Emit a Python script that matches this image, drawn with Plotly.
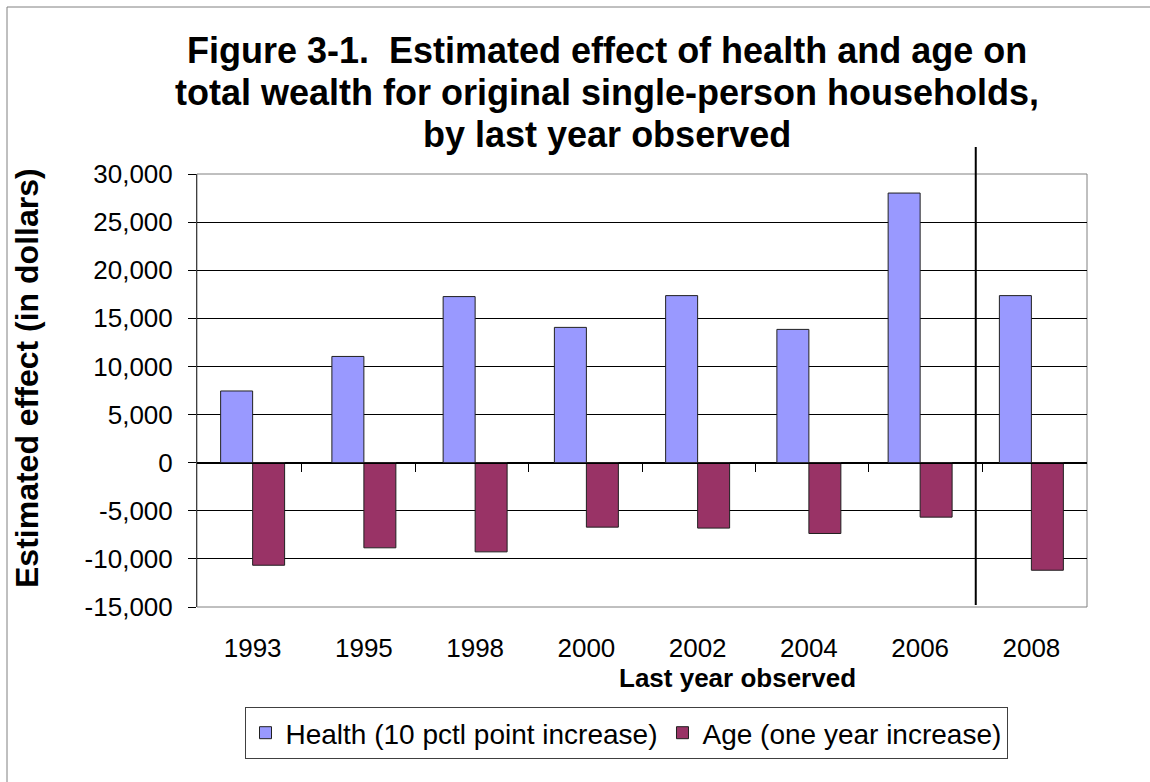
import plotly.graph_objects as go

# ---- data ----
years = ["1993", "1995", "1998", "2000", "2002", "2004", "2006", "2008"]
health = [7450, 11040, 17260, 14060, 17360, 13850, 28020, 17360]
age = [-10660, -8850, -9270, -6700, -6800, -7360, -5660, -11180]
ytick_vals = [30000, 25000, 20000, 15000, 10000, 5000, 0, -5000, -10000, -15000]
ytick_text = ["30,000", "25,000", "20,000", "15,000", "10,000", "5,000", "0",
              "-5,000", "-10,000", "-15,000"]
health_name = "Health (10 pctl point increase)"
age_name = "Age (one year increase)"
title_lines = ["Figure 3-1.  Estimated effect of health and age on",
               "total wealth for original single-person households,",
               "by last year observed"]

# ---- layout geometry ----
W_FIG, H_FIG = 1150, 782
L, R, T, B = 197, 63, 174, 175
PW, PH = W_FIG - L - R, H_FIG - T - B


def px_x(px):
    return (px - L) / PW


def px_y(py):
    return (H_FIG - B - py) / PH


FONT = "Liberation Sans, Arial, sans-serif"

fig = go.Figure()
fig.add_trace(go.Bar(x=years, y=health, name=health_name,
                     marker=dict(color="#9999FF", line=dict(color="#202020", width=1))))
fig.add_trace(go.Bar(x=years, y=age, name=age_name,
                     marker=dict(color="#993366", line=dict(color="#202020", width=1))))
# helper (invisible) trace so the zero-line category axis gets its categories
fig.add_trace(go.Scatter(x=years, y=[0] * len(years), xaxis="x2", mode="markers",
                         marker=dict(opacity=0), showlegend=False, hoverinfo="skip"))

fig.update_layout(
    width=W_FIG, height=H_FIG,
    margin=dict(l=L, r=R, t=T, b=B),
    paper_bgcolor="white", plot_bgcolor="white",
    font=dict(family=FONT, size=26, color="black"),
    barmode="group", bargap=0.425, bargroupgap=0,
    xaxis=dict(type="category", categoryorder="array", categoryarray=years,
               showgrid=False, showline=False, ticks="", ticklabelstandoff=23,
               tickfont=dict(size=26)),
    xaxis2=dict(type="category", categoryorder="array", categoryarray=years,
                overlaying="x", anchor="free", position=px_y(462.7),
                showline=True, linecolor="black", linewidth=1,
                ticks="outside", tickson="boundaries", ticklen=8, tickcolor="black",
                showticklabels=False, showgrid=False),
    yaxis=dict(range=[-15000, 30000], tickvals=ytick_vals, ticktext=ytick_text,
               showgrid=True, gridcolor="black", gridwidth=1, zeroline=False,
               showline=True, linecolor="#404040", linewidth=1,
               ticks="outside", ticklen=8, tickcolor="black",
               tickfont=dict(size=26), ticklabelstandoff=10),
    legend=dict(orientation="h", x=px_x(626), xanchor="center",
                y=px_y(707), yanchor="top", bordercolor="#404040", borderwidth=1,
                font=dict(size=28), bgcolor="white", traceorder="normal"),
    showlegend=True,
)

# chart title (three centred lines)
for line, cy in zip(title_lines, [50, 92, 134]):
    fig.add_annotation(text=line, xref="paper", yref="paper",
                       x=px_x(607), y=px_y(cy), xanchor="center", yanchor="middle",
                       showarrow=False,
                       font=dict(family=FONT, size=36, color="black", weight="bold"))

# axis titles
fig.add_annotation(text="Last year observed", xref="paper", yref="paper",
                   x=px_x(737), y=px_y(678), xanchor="center", yanchor="middle",
                   showarrow=False,
                   font=dict(family=FONT, size=26, color="black", weight="bold"))
fig.add_annotation(text="Estimated effect (in dollars)", xref="paper", yref="paper",
                   x=px_x(27), y=px_y(378), xanchor="center", yanchor="middle",
                   textangle=-90, showarrow=False,
                   font=dict(family=FONT, size=32, color="black", weight="bold"))

# plot area border (gray)
fig.add_shape(type="rect", xref="paper", yref="paper", x0=0, x1=1, y0=0, y1=1,
              line=dict(color="#808080", width=1), layer="below")
# outer chart border (only left/top visible)
fig.add_shape(type="rect", xref="paper", yref="paper",
              x0=px_x(7), x1=px_x(1170), y0=px_y(800), y1=px_y(7),
              line=dict(color="#808080", width=1))
# vertical separator between 2006 and 2008
fig.add_shape(type="line", xref="x", yref="paper", x0=6.5, x1=6.5,
              y0=px_y(605), y1=px_y(147), line=dict(color="black", width=2))

fig.write_html("out.html")
